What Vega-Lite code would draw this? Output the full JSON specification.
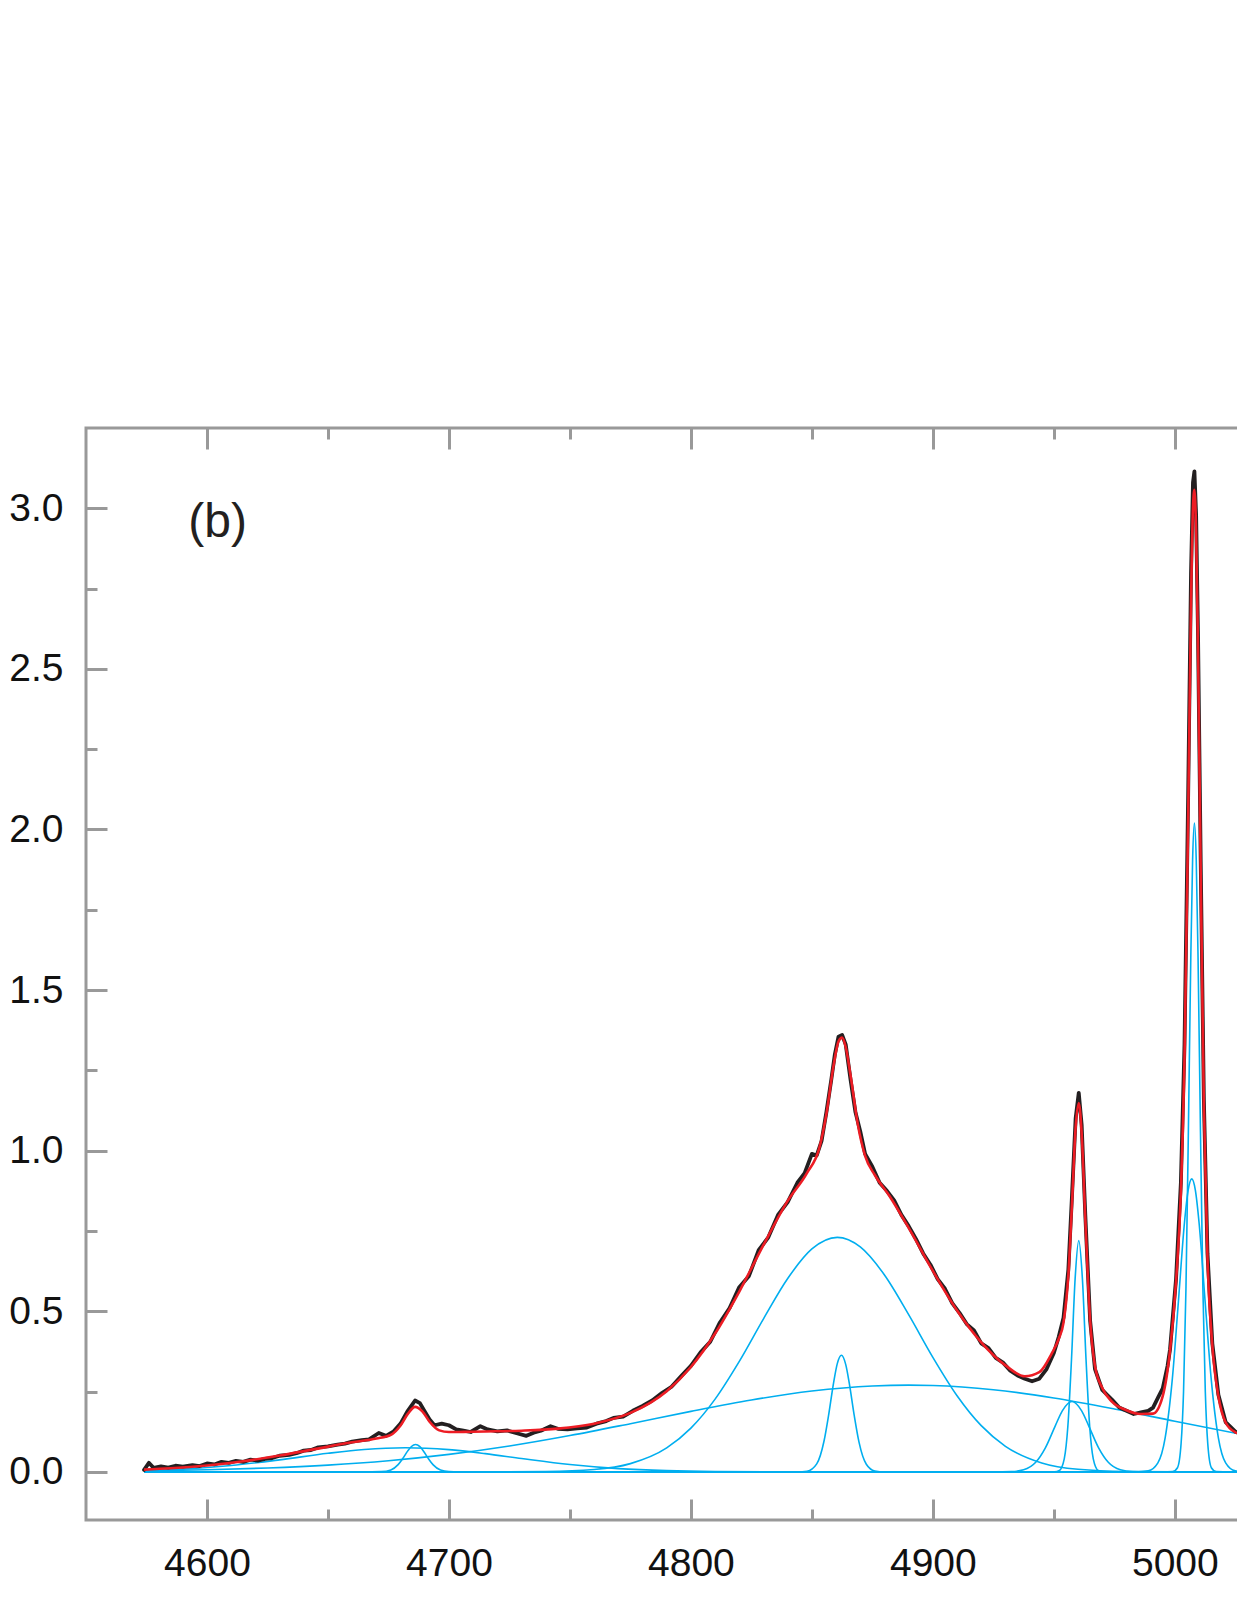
{
  "$schema": "https://vega.github.io/schema/vega-lite/v6.json",
  "width": 1234,
  "height": 1092,
  "autosize": {"type": "none"},
  "padding": {"left": 86, "top": 428, "right": 0, "bottom": 81},
  "background": "white",
  "config": {
    "view": {"stroke": "#999999", "strokeWidth": 3},
    "axis": {"grid": false, "domain": false, "title": null, "labelFont": "Liberation Sans", "labelFontSize": 39, "labelColor": "#111111", "tickColor": "#999999", "tickWidth": 3, "tickCap": "butt", "labelFlush": false, "labelOverlap": false}
  },
  "datasets": {
    "broad": [
      {"c": "W", "x": 4574, "y": 0.0032}, {"c": "W", "x": 4600, "y": 0.0064}, {"c": "W", "x": 4625, "y": 0.0119}, {"c": "W", "x": 4650, "y": 0.0208}, {"c": "W", "x": 4675, "y": 0.0345}, {"c": "W", "x": 4700, "y": 0.0542}, {"c": "W", "x": 4725, "y": 0.0804}, {"c": "W", "x": 4750, "y": 0.1129}, {"c": "W", "x": 4775, "y": 0.1499}, {"c": "W", "x": 4800, "y": 0.1883}, {"c": "W", "x": 4825, "y": 0.2237}, {"c": "W", "x": 4850, "y": 0.2515}, {"c": "W", "x": 4875, "y": 0.2673}, {"c": "W", "x": 4890, "y": 0.27}, {"c": "W", "x": 4900, "y": 0.2688}, {"c": "W", "x": 4925, "y": 0.2557}, {"c": "W", "x": 4950, "y": 0.23}, {"c": "W", "x": 4975, "y": 0.1958}, {"c": "W", "x": 5000, "y": 0.1576}, {"c": "W", "x": 5030, "y": 0.1129},
      {"c": "B", "x": 4574, "y": 0}, {"c": "B", "x": 4720, "y": 0}, {"c": "B", "x": 4740, "y": 0.0009}, {"c": "B", "x": 4760, "y": 0.0071}, {"c": "B", "x": 4775, "y": 0.0255}, {"c": "B", "x": 4790, "y": 0.0745}, {"c": "B", "x": 4800, "y": 0.136}, {"c": "B", "x": 4810, "y": 0.2263}, {"c": "B", "x": 4820, "y": 0.3438}, {"c": "B", "x": 4830, "y": 0.4763}, {"c": "B", "x": 4840, "y": 0.6019}, {"c": "B", "x": 4850, "y": 0.694}, {"c": "B", "x": 4860.5, "y": 0.73}, {"c": "B", "x": 4870, "y": 0.7003}, {"c": "B", "x": 4880, "y": 0.613}, {"c": "B", "x": 4890, "y": 0.4895}, {"c": "B", "x": 4900, "y": 0.3566}, {"c": "B", "x": 4910, "y": 0.237}, {"c": "B", "x": 4920, "y": 0.1437}, {"c": "B", "x": 4930, "y": 0.0795}, {"c": "B", "x": 4945, "y": 0.0275}, {"c": "B", "x": 4960, "y": 0.0078}, {"c": "B", "x": 4980, "y": 0.001}, {"c": "B", "x": 5000, "y": 0}, {"c": "B", "x": 5030, "y": 0},
      {"c": "HB", "x": 4574, "y": 0.0037}, {"c": "HB", "x": 4590, "y": 0.0084}, {"c": "HB", "x": 4610, "y": 0.0197}, {"c": "HB", "x": 4630, "y": 0.0373}, {"c": "HB", "x": 4650, "y": 0.0576}, {"c": "HB", "x": 4665, "y": 0.0696}, {"c": "HB", "x": 4682, "y": 0.075}, {"c": "HB", "x": 4700, "y": 0.069}, {"c": "HB", "x": 4715, "y": 0.0566}, {"c": "HB", "x": 4730, "y": 0.0414}, {"c": "HB", "x": 4750, "y": 0.0227}, {"c": "HB", "x": 4770, "y": 0.0101}, {"c": "HB", "x": 4790, "y": 0.0037}, {"c": "HB", "x": 4810, "y": 0.0011}, {"c": "HB", "x": 4840, "y": 0.0001}, {"c": "HB", "x": 4870, "y": 0}, {"c": "HB", "x": 5030, "y": 0}
    ],
    "narrowA": [
      {"c": "N", "x": 4574, "y": 0}, {"c": "N", "x": 4844, "y": 0}, {"c": "N", "x": 4848, "y": 0.002}, {"c": "N", "x": 4852, "y": 0.0247}, {"c": "N", "x": 4855, "y": 0.0952}, {"c": "N", "x": 4857, "y": 0.1806}, {"c": "N", "x": 4859, "y": 0.2786}, {"c": "N", "x": 4860.5, "y": 0.3369}, {"c": "N", "x": 4862.2, "y": 0.363}, {"c": "N", "x": 4864, "y": 0.3339}, {"c": "N", "x": 4865.5, "y": 0.274}, {"c": "N", "x": 4867.5, "y": 0.1757}, {"c": "N", "x": 4869.5, "y": 0.0917}, {"c": "N", "x": 4872.5, "y": 0.0235}, {"c": "N", "x": 4876, "y": 0.0027}, {"c": "N", "x": 4880, "y": 0}, {"c": "N", "x": 5030, "y": 0},
      {"c": "HN", "x": 4574, "y": 0}, {"c": "HN", "x": 4668, "y": 0}, {"c": "HN", "x": 4672, "y": 0.0005}, {"c": "HN", "x": 4676, "y": 0.0058}, {"c": "HN", "x": 4679, "y": 0.0223}, {"c": "HN", "x": 4681, "y": 0.0423}, {"c": "HN", "x": 4683, "y": 0.0652}, {"c": "HN", "x": 4684.5, "y": 0.0789}, {"c": "HN", "x": 4686.2, "y": 0.085}, {"c": "HN", "x": 4688, "y": 0.0782}, {"c": "HN", "x": 4689.5, "y": 0.0642}, {"c": "HN", "x": 4691.5, "y": 0.0411}, {"c": "HN", "x": 4693.5, "y": 0.0215}, {"c": "HN", "x": 4696.5, "y": 0.0055}, {"c": "HN", "x": 4700, "y": 0.0006}, {"c": "HN", "x": 4704, "y": 0}, {"c": "HN", "x": 5030, "y": 0}
    ],
    "oiii": [
      {"c": "F", "x": 4574, "y": 0}, {"c": "F", "x": 4925, "y": 0}, {"c": "F", "x": 4932.5, "y": 0.0008}, {"c": "F", "x": 4937.5, "y": 0.0063}, {"c": "F", "x": 4942.5, "y": 0.0296}, {"c": "F", "x": 4946.5, "y": 0.0747}, {"c": "F", "x": 4950.5, "y": 0.1417}, {"c": "F", "x": 4953.5, "y": 0.19}, {"c": "F", "x": 4957.5, "y": 0.219}, {"c": "F", "x": 4961.5, "y": 0.19}, {"c": "F", "x": 4964.5, "y": 0.1417}, {"c": "F", "x": 4968.5, "y": 0.0747}, {"c": "F", "x": 4972.5, "y": 0.0296}, {"c": "F", "x": 4977.5, "y": 0.0063}, {"c": "F", "x": 4982.5, "y": 0.0008}, {"c": "F", "x": 4990, "y": 0}, {"c": "F", "x": 5030, "y": 0},
      {"c": "G", "x": 4574, "y": 0}, {"c": "G", "x": 4948, "y": 0}, {"c": "G", "x": 4950.3, "y": 0.0002}, {"c": "G", "x": 4952.3, "y": 0.0043}, {"c": "G", "x": 4954.3, "y": 0.0404}, {"c": "G", "x": 4955.8, "y": 0.1425}, {"c": "G", "x": 4957.3, "y": 0.3505}, {"c": "G", "x": 4958.8, "y": 0.6014}, {"c": "G", "x": 4960.3, "y": 0.72}, {"c": "G", "x": 4961.8, "y": 0.6014}, {"c": "G", "x": 4963.3, "y": 0.3505}, {"c": "G", "x": 4964.8, "y": 0.1425}, {"c": "G", "x": 4966.3, "y": 0.0404}, {"c": "G", "x": 4968.3, "y": 0.0043}, {"c": "G", "x": 4970.3, "y": 0.0002}, {"c": "G", "x": 4973, "y": 0}, {"c": "G", "x": 5030, "y": 0},
      {"c": "H", "x": 4574, "y": 0}, {"c": "H", "x": 4982, "y": 0}, {"c": "H", "x": 4985, "y": 0.0002}, {"c": "H", "x": 4989, "y": 0.0029}, {"c": "H", "x": 4993, "y": 0.0278}, {"c": "H", "x": 4996, "y": 0.1058}, {"c": "H", "x": 4999, "y": 0.2919}, {"c": "H", "x": 5001.5, "y": 0.5323}, {"c": "H", "x": 5004, "y": 0.777}, {"c": "H", "x": 5005.5, "y": 0.8763}, {"c": "H", "x": 5007, "y": 0.912}, {"c": "H", "x": 5008.5, "y": 0.8763}, {"c": "H", "x": 5010, "y": 0.777}, {"c": "H", "x": 5012.5, "y": 0.5323}, {"c": "H", "x": 5015, "y": 0.2919}, {"c": "H", "x": 5018, "y": 0.1058}, {"c": "H", "x": 5021, "y": 0.0278}, {"c": "H", "x": 5025, "y": 0.0029}, {"c": "H", "x": 5029, "y": 0.0002}, {"c": "H", "x": 5032, "y": 0},
      {"c": "I", "x": 4574, "y": 0}, {"c": "I", "x": 4997, "y": 0}, {"c": "I", "x": 4999.1, "y": 0.0005}, {"c": "I", "x": 5001.1, "y": 0.0128}, {"c": "I", "x": 5002.6, "y": 0.0888}, {"c": "I", "x": 5003.6, "y": 0.2493}, {"c": "I", "x": 5004.6, "y": 0.5698}, {"c": "I", "x": 5005.6, "y": 1.059}, {"c": "I", "x": 5006.6, "y": 1.601}, {"c": "I", "x": 5007.35, "y": 1.906}, {"c": "I", "x": 5008.1, "y": 2.02}, {"c": "I", "x": 5008.85, "y": 1.906}, {"c": "I", "x": 5009.6, "y": 1.601}, {"c": "I", "x": 5010.6, "y": 1.059}, {"c": "I", "x": 5011.6, "y": 0.5698}, {"c": "I", "x": 5012.6, "y": 0.2493}, {"c": "I", "x": 5013.6, "y": 0.0888}, {"c": "I", "x": 5015.1, "y": 0.0128}, {"c": "I", "x": 5017.1, "y": 0.0005}, {"c": "I", "x": 5020, "y": 0}, {"c": "I", "x": 5032, "y": 0}
    ],
    "observed": [
      {"x": 4574, "y": 0.006}, {"x": 4576, "y": 0.028}, {"x": 4578, "y": 0.012}, {"x": 4581, "y": 0.017}, {"x": 4584, "y": 0.013}, {"x": 4587, "y": 0.019}, {"x": 4590, "y": 0.016}, {"x": 4594, "y": 0.021}, {"x": 4597, "y": 0.018}, {"x": 4600, "y": 0.026}, {"x": 4603, "y": 0.023}, {"x": 4606, "y": 0.031}, {"x": 4609, "y": 0.028}, {"x": 4612, "y": 0.034}, {"x": 4615, "y": 0.031}, {"x": 4618, "y": 0.038}, {"x": 4621, "y": 0.035}, {"x": 4624, "y": 0.04}, {"x": 4627, "y": 0.043}, {"x": 4630, "y": 0.05}, {"x": 4634, "y": 0.053}, {"x": 4637, "y": 0.058}, {"x": 4640, "y": 0.066}, {"x": 4643, "y": 0.068}, {"x": 4646, "y": 0.076}, {"x": 4650, "y": 0.079}, {"x": 4654, "y": 0.085}, {"x": 4657, "y": 0.088}, {"x": 4660, "y": 0.094}, {"x": 4664, "y": 0.099}, {"x": 4667, "y": 0.101}, {"x": 4671, "y": 0.121}, {"x": 4674, "y": 0.112}, {"x": 4677, "y": 0.125}, {"x": 4680, "y": 0.15}, {"x": 4683, "y": 0.19}, {"x": 4686, "y": 0.222}, {"x": 4688, "y": 0.214}, {"x": 4690, "y": 0.188}, {"x": 4692, "y": 0.163}, {"x": 4694, "y": 0.145}, {"x": 4697, "y": 0.15}, {"x": 4700, "y": 0.145}, {"x": 4703, "y": 0.132}, {"x": 4706, "y": 0.128}, {"x": 4709, "y": 0.124}, {"x": 4713, "y": 0.142}, {"x": 4716, "y": 0.132}, {"x": 4720, "y": 0.126}, {"x": 4724, "y": 0.129}, {"x": 4728, "y": 0.12}, {"x": 4732, "y": 0.112}, {"x": 4735, "y": 0.122}, {"x": 4738, "y": 0.128}, {"x": 4742, "y": 0.142}, {"x": 4745, "y": 0.134}, {"x": 4749, "y": 0.132}, {"x": 4753, "y": 0.135}, {"x": 4757, "y": 0.138}, {"x": 4761, "y": 0.15}, {"x": 4765, "y": 0.158}, {"x": 4768, "y": 0.168}, {"x": 4772, "y": 0.172}, {"x": 4776, "y": 0.19}, {"x": 4780, "y": 0.205}, {"x": 4784, "y": 0.222}, {"x": 4788, "y": 0.245}, {"x": 4792, "y": 0.265}, {"x": 4796, "y": 0.298}, {"x": 4800, "y": 0.33}, {"x": 4804, "y": 0.372}, {"x": 4808, "y": 0.405},
      {"x": 4812, "y": 0.465}, {"x": 4816, "y": 0.51}, {"x": 4820, "y": 0.575}, {"x": 4824, "y": 0.61}, {"x": 4828, "y": 0.69}, {"x": 4832, "y": 0.73}, {"x": 4836, "y": 0.8}, {"x": 4840, "y": 0.84}, {"x": 4844, "y": 0.9}, {"x": 4847, "y": 0.93}, {"x": 4850, "y": 0.99}, {"x": 4852, "y": 0.985}, {"x": 4854, "y": 1.03}, {"x": 4856, "y": 1.12}, {"x": 4858, "y": 1.22}, {"x": 4859.5, "y": 1.3}, {"x": 4861, "y": 1.355}, {"x": 4862.5, "y": 1.36}, {"x": 4864, "y": 1.33}, {"x": 4866, "y": 1.22}, {"x": 4868, "y": 1.12}, {"x": 4870, "y": 1.06}, {"x": 4872, "y": 0.99}, {"x": 4875, "y": 0.95}, {"x": 4878, "y": 0.9}, {"x": 4881, "y": 0.875}, {"x": 4884, "y": 0.845}, {"x": 4887, "y": 0.8}, {"x": 4890, "y": 0.765}, {"x": 4893, "y": 0.725}, {"x": 4896, "y": 0.68}, {"x": 4899, "y": 0.645}, {"x": 4902, "y": 0.6}, {"x": 4905, "y": 0.57}, {"x": 4908, "y": 0.525}, {"x": 4911, "y": 0.495}, {"x": 4914, "y": 0.46}, {"x": 4917, "y": 0.44}, {"x": 4920, "y": 0.4}, {"x": 4923, "y": 0.385}, {"x": 4926, "y": 0.355}, {"x": 4929, "y": 0.34}, {"x": 4932, "y": 0.315}, {"x": 4935, "y": 0.3}, {"x": 4938, "y": 0.29}, {"x": 4941, "y": 0.282}, {"x": 4944, "y": 0.29}, {"x": 4947, "y": 0.32}, {"x": 4950, "y": 0.37}, {"x": 4952, "y": 0.42}, {"x": 4954, "y": 0.48}, {"x": 4956, "y": 0.63}, {"x": 4957.5, "y": 0.86}, {"x": 4959, "y": 1.1}, {"x": 4960.3, "y": 1.18}, {"x": 4961.5, "y": 1.08}, {"x": 4963, "y": 0.8}, {"x": 4965, "y": 0.47}, {"x": 4967, "y": 0.32}, {"x": 4970, "y": 0.255}, {"x": 4972, "y": 0.24}, {"x": 4974, "y": 0.225}, {"x": 4977, "y": 0.2}, {"x": 4980, "y": 0.19}, {"x": 4983, "y": 0.18}, {"x": 4986, "y": 0.185}, {"x": 4989, "y": 0.19}, {"x": 4991, "y": 0.2}, {"x": 4993, "y": 0.23}, {"x": 4995, "y": 0.26}, {"x": 4997, "y": 0.33}, {"x": 4998, "y": 0.38}, {"x": 5000.5, "y": 0.6}, {"x": 5002.5, "y": 0.9}, {"x": 5004, "y": 1.33}, {"x": 5005.5, "y": 2.1}, {"x": 5006.7, "y": 2.8}, {"x": 5007.5, "y": 3.08}, {"x": 5008.1, "y": 3.115}, {"x": 5008.8, "y": 2.98}, {"x": 5009.6, "y": 2.6}, {"x": 5010.7, "y": 1.9}, {"x": 5012, "y": 1.16}, {"x": 5013.5, "y": 0.68}, {"x": 5015.5, "y": 0.4}, {"x": 5018, "y": 0.24}, {"x": 5021, "y": 0.155}, {"x": 5025, "y": 0.125}, {"x": 5030, "y": 0.115}
    ],
    "fit": [
      {"x": 4574, "y": 0.0069}, {"x": 4585, "y": 0.0109}, {"x": 4600, "y": 0.0196}, {"x": 4615, "y": 0.0328}, {"x": 4630, "y": 0.0506}, {"x": 4645, "y": 0.0714}, {"x": 4660, "y": 0.0919}, {"x": 4670, "y": 0.1037}, {"x": 4676, "y": 0.1153}, {"x": 4680, "y": 0.1445}, {"x": 4683, "y": 0.1803}, {"x": 4686, "y": 0.2021}, {"x": 4689, "y": 0.1882}, {"x": 4692, "y": 0.156}, {"x": 4696, "y": 0.129}, {"x": 4700, "y": 0.1238}, {"x": 4706, "y": 0.1245}, {"x": 4715, "y": 0.1257}, {"x": 4730, "y": 0.1281}, {"x": 4745, "y": 0.1344}, {"x": 4760, "y": 0.15}, {"x": 4775, "y": 0.1834}, {"x": 4790, "y": 0.2512}, {"x": 4800, "y": 0.3264}, {"x": 4810, "y": 0.4305}, {"x": 4820, "y": 0.5614}, {"x": 4830, "y": 0.7063}, {"x": 4840, "y": 0.8435}, {"x": 4848, "y": 0.9311}, {"x": 4853, "y": 1.0062}, {"x": 4856, "y": 1.1142}, {"x": 4859, "y": 1.2666}, {"x": 4861, "y": 1.3399}, {"x": 4862.5, "y": 1.3519}, {"x": 4864, "y": 1.3218}, {"x": 4866, "y": 1.2331}, {"x": 4869, "y": 1.081}, {"x": 4872, "y": 0.9835}, {"x": 4876, "y": 0.9242}, {"x": 4882, "y": 0.8596}, {"x": 4890, "y": 0.7595}, {"x": 4900, "y": 0.6254}, {"x": 4910, "y": 0.5022}, {"x": 4920, "y": 0.4031}, {"x": 4930, "y": 0.3313}, {"x": 4938, "y": 0.2975}, {"x": 4944, "y": 0.3101}, {"x": 4949, "y": 0.3665}, {"x": 4952, "y": 0.4135}, {"x": 4954, "y": 0.4647}, {"x": 4956, "y": 0.6122}, {"x": 4957.5, "y": 0.8338}, {"x": 4959, "y": 1.0706}, {"x": 4960.3, "y": 1.1485}, {"x": 4961.5, "y": 1.0535}, {"x": 4963, "y": 0.7881}, {"x": 4965, "y": 0.4708}, {"x": 4967, "y": 0.3295}, {"x": 4970, "y": 0.2611}, {"x": 4974, "y": 0.2187}, {"x": 4980, "y": 0.1917}, {"x": 4986, "y": 0.18}, {"x": 4991, "y": 0.1811}, {"x": 4995, "y": 0.2356}, {"x": 4998, "y": 0.3764}, {"x": 5000.5, "y": 0.5919}, {"x": 5002.5, "y": 0.8688}, {"x": 5004, "y": 1.2842}, {"x": 5005.5, "y": 2.0301}, {"x": 5006.7, "y": 2.7075}, {"x": 5007.5, "y": 3.0004}, {"x": 5008.1, "y": 3.0578}, {"x": 5008.8, "y": 2.9254}, {"x": 5009.6, "y": 2.5525}, {"x": 5010.7, "y": 1.8606}, {"x": 5012, "y": 1.1434}, {"x": 5013.5, "y": 0.6663}, {"x": 5015.5, "y": 0.3932}, {"x": 5018, "y": 0.236}, {"x": 5021, "y": 0.1536}, {"x": 5025, "y": 0.1229}, {"x": 5030, "y": 0.1129}
    ]
  },
  "layer": [
    {
      "data": {"name": "broad"},
      "mark": {"type": "line", "color": "#00aeef", "strokeWidth": 1.6, "interpolate": "monotone"},
      "encoding": {
        "x": {"field": "x", "type": "quantitative", "scale": {"domain": [4550, 5060], "nice": false, "zero": false},
              "axis": {"orient": "bottom", "values": [4600, 4700, 4800, 4900, 5000], "format": "d", "ticks": false, "labelPadding": 24}},
        "y": {"field": "y", "type": "quantitative", "scale": {"domain": [-0.15, 3.25], "nice": false, "zero": false},
              "axis": {"orient": "left", "values": [0, 0.5, 1, 1.5, 2, 2.5, 3], "format": ".1f", "ticks": false, "labelPadding": 23}},
        "detail": {"field": "c", "type": "nominal"}
      }
    },
    {
      "data": {"name": "narrowA"},
      "mark": {"type": "line", "color": "#00aeef", "strokeWidth": 1.6, "interpolate": "monotone"},
      "encoding": {
        "x": {"field": "x", "type": "quantitative", "scale": {"domain": [4550, 5060], "nice": false, "zero": false},
              "axis": {"orient": "bottom", "values": [4600, 4700, 4800, 4900, 5000], "labels": false, "tickSize": -21}},
        "y": {"field": "y", "type": "quantitative", "scale": {"domain": [-0.15, 3.25], "nice": false, "zero": false},
              "axis": {"orient": "left", "values": [0, 0.5, 1, 1.5, 2, 2.5, 3], "labels": false, "tickSize": -21}},
        "detail": {"field": "c", "type": "nominal"}
      }
    },
    {
      "data": {"name": "oiii"},
      "mark": {"type": "line", "color": "#00aeef", "strokeWidth": 1.6, "interpolate": "monotone"},
      "encoding": {
        "x": {"field": "x", "type": "quantitative", "scale": {"domain": [4550, 5060], "nice": false, "zero": false},
              "axis": {"orient": "bottom", "values": [4650, 4750, 4850, 4950, 5050], "labels": false, "tickSize": -11}},
        "y": {"field": "y", "type": "quantitative", "scale": {"domain": [-0.15, 3.25], "nice": false, "zero": false},
              "axis": {"orient": "left", "values": [0.25, 0.75, 1.25, 1.75, 2.25, 2.75], "labels": false, "tickSize": -11}},
        "detail": {"field": "c", "type": "nominal"}
      }
    },
    {
      "data": {"name": "observed"},
      "mark": {"type": "line", "color": "#231f20", "strokeWidth": 3.8, "strokeJoin": "round", "strokeCap": "round"},
      "encoding": {
        "x": {"field": "x", "type": "quantitative", "scale": {"domain": [4550, 5060], "nice": false, "zero": false},
              "axis": {"orient": "top", "values": [4600, 4700, 4800, 4900, 5000], "labels": false, "tickSize": -21}},
        "y": {"field": "y", "type": "quantitative", "scale": {"domain": [-0.15, 3.25], "nice": false, "zero": false}, "axis": null}
      }
    },
    {
      "data": {"name": "fit"},
      "mark": {"type": "line", "color": "#ed1c24", "strokeWidth": 2.6, "interpolate": "monotone"},
      "encoding": {
        "x": {"field": "x", "type": "quantitative", "scale": {"domain": [4550, 5060], "nice": false, "zero": false},
              "axis": {"orient": "top", "values": [4650, 4750, 4850, 4950, 5050], "labels": false, "tickSize": -11}},
        "y": {"field": "y", "type": "quantitative", "scale": {"domain": [-0.15, 3.25], "nice": false, "zero": false}, "axis": null}
      }
    },
    {
      "data": {"values": [{"label": "(b)"}]},
      "mark": {"type": "text", "align": "left", "baseline": "alphabetic", "font": "Liberation Sans", "fontSize": 48, "color": "#231f20"},
      "encoding": {
        "x": {"datum": 4592.3, "type": "quantitative", "scale": {"domain": [4550, 5060], "nice": false, "zero": false}, "axis": null},
        "y": {"datum": 2.912, "type": "quantitative", "scale": {"domain": [-0.15, 3.25], "nice": false, "zero": false}, "axis": null},
        "text": {"field": "label", "type": "nominal"}
      }
    }
  ],
  "resolve": {"axis": {"x": "independent", "y": "independent"}}
}
